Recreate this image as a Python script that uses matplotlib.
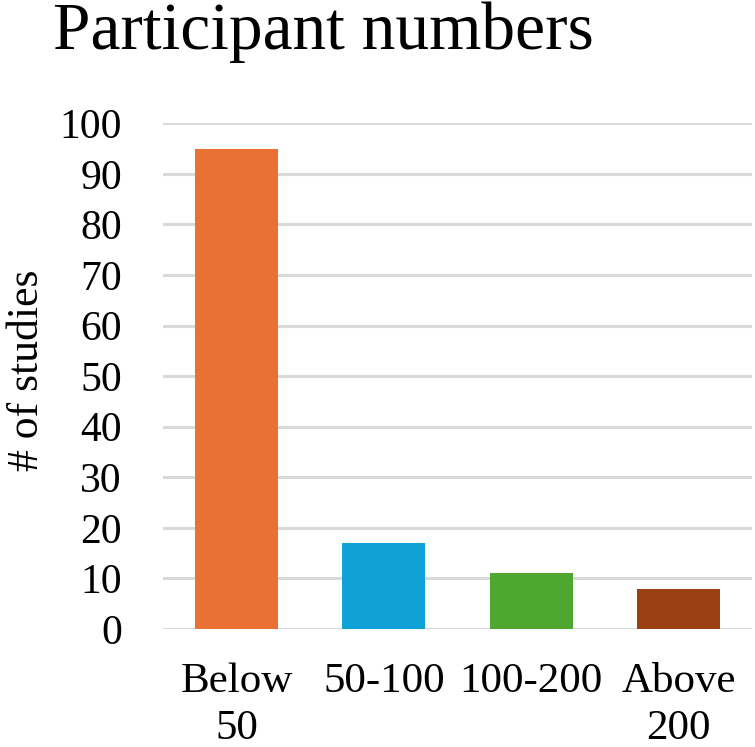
import matplotlib
matplotlib.use("Agg")
import matplotlib.pyplot as plt

categories = ["Below\n50", "50-100", "100-200", "Above\n200"]
values = [95, 17, 11, 8]
colors = ["#EA7134", "#10A1D6", "#4EA72E", "#9A4012"]
yticks = [0, 10, 20, 30, 40, 50, 60, 70, 80, 90, 100]

plt.rcParams['font.family'] = ['Liberation Serif', 'DejaVu Serif']

W, H = 755, 747
fig = plt.figure(figsize=(W/100, H/100), dpi=100)
left, right, bottom, top = 163, 752, 629, 123.3
ax = fig.add_axes([left/W, 1-bottom/H, (right-left)/W, (bottom-top)/H])

x = list(range(len(categories)))
ax.bar(x, values, width=0.563, color=colors, zorder=3)
ax.set_xlim(-0.5, 3.5)
ax.set_ylim(0, 100)
ax.set_yticks(yticks)
ax.set_xticks(x)
ax.set_xticklabels(categories, fontsize=31, linespacing=1.3, va='top')
ax.tick_params(axis='y', labelsize=30, length=0, pad=29.5)
ax.tick_params(axis='x', length=0, pad=24)
ax.yaxis.grid(True, color='#D9D9D9', linewidth=2.2, zorder=0)
ax.set_axisbelow(True)
for s in ax.spines.values():
    s.set_visible(False)
fig.text(27/W, 1-370/H, "# of studies", fontsize=31.5, rotation=90,
         ha='center', va='center')
fig.text(53/W, 1-49/H, "Participant numbers", fontsize=48.5, ha='left', va='baseline')

fig.savefig("out.png", dpi=100)
